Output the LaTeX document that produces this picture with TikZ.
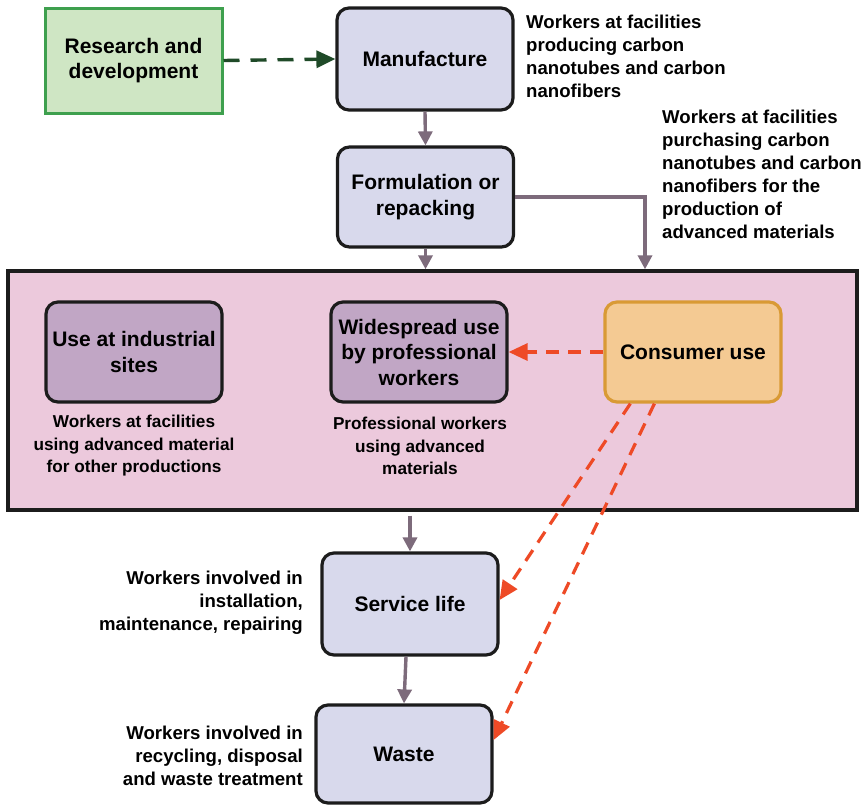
\documentclass[tikz,border=0pt]{standalone}
\usepackage{fontspec}
\setmainfont{Liberation Sans}
\usetikzlibrary{arrows.meta,calc}
\definecolor{rdfill}{HTML}{CFE6C4}
\definecolor{rdline}{HTML}{3EA04E}
\definecolor{gdark}{HTML}{1F4A28}
\definecolor{bluefill}{HTML}{D8D9EC}
\definecolor{boxline}{HTML}{1C1C1C}
\definecolor{pinkfill}{HTML}{ECC9DC}
\definecolor{purpfill}{HTML}{C1A6C5}
\definecolor{consfill}{HTML}{F4CA93}
\definecolor{consline}{HTML}{D99A35}
\definecolor{flowc}{HTML}{7D6B7B}
\definecolor{orng}{HTML}{EE4A26}
\begin{document}
\begin{tikzpicture}[x=1pt,y=-1pt,
  box/.style={draw=boxline,line width=3.2pt,rounded corners=12pt,inner sep=0pt,align=center,
    minimum width=176pt,minimum height=100pt,font=\bfseries\fontsize{21}{25.5}\selectfont},
  bluebox/.style={box,fill=bluefill},
  purpbox/.style={box,fill=purpfill},
  note/.style={inner sep=0pt,font=\bfseries\fontsize{18.6}{23}\selectfont},
  flow/.style={draw=flowc,line width=3.4pt,-{Triangle[length=14pt,width=14pt]}},
  odash/.style={draw=orng,line width=3.2pt,dash pattern=on 13pt off 9pt,-{Triangle[length=19pt,width=17pt]}},
  gdash/.style={draw=gdark,line width=3.4pt,dash pattern=on 16pt off 11pt,-{Triangle[length=19pt,width=17pt]}}
]
\useasboundingbox (0,0) rectangle (866,806);
\fill[white] (0,0) rectangle (866,806);

% big container
\node[draw=boxline,line width=3.4pt,fill=pinkfill,minimum width=849pt,minimum height=239pt,inner sep=0pt] (big) at (432.5,390.5) {};

% top boxes
\node[draw=rdline,line width=3pt,fill=rdfill,minimum width=177pt,minimum height=105pt,inner sep=0pt,align=center,
  font=\bfseries\fontsize{21}{25.5}\selectfont] (rd) at (133.5,60.5) {Research and\\development};
\node[bluebox,minimum height=102pt] (manu) at (425,59) {Manufacture};
\node[bluebox] (form) at (425.5,197) {Formulation or\\repacking};

% inner boxes
\node[purpbox] (ind) at (134,352) {Use at industrial\\sites};
\node[purpbox] (wide) at (419,352) {Widespread use\\by professional\\workers};
\node[box,draw=consline,fill=consfill] (cons) at (693,352) {Consumer use};

% bottom boxes
\node[bluebox,minimum height=102pt] (serv) at (410,604) {Service life};
\node[bluebox,minimum height=98pt] (waste) at (404,754) {Waste};

% notes
\node[note,anchor=west,align=left] (n1) at (526,56) {Workers at facilities\\producing carbon\\nanotubes and carbon\\nanofibers};
\node[note,anchor=west,align=left] (n2) at (662,174.5) {Workers at facilities\\purchasing carbon\\nanotubes and carbon\\nanofibers for the\\production of\\advanced materials};
\node[note,align=center,font=\bfseries\fontsize{17.2}{22.5}\selectfont] (n3) at (134,446) {Workers at facilities\\using advanced material\\for other productions};
\node[note,align=center,font=\bfseries\fontsize{17.2}{22.5}\selectfont] (n4) at (420,446) {Professional workers\\using advanced\\materials};
\node[note,anchor=east,align=right] (n5) at (303,603) {Workers involved in\\installation,\\maintenance, repairing};
\node[note,anchor=east,align=right] (n6) at (303,756) {Workers involved in\\recycling, disposal\\and waste treatment};

% connectors
\draw[gdash] (rd.east) -- (manu.west);
\draw[flow] (manu.south) -- (form.north);
\draw[flow] (form.south) -- (form.south |- big.north);
\coordinate (cornerR) at (645,0);
\draw[flow] (form.east) -- (form.east -| cornerR) -- (cornerR |- big.north);
\draw[odash] (cons.west) -- (wide.east);
\coordinate (bigout) at (410,0);
\draw[flow] ($(bigout |- big.south)+(0,4)$) -- (serv.north);
\draw[flow] ($(serv.south)+(-4,0)$) -- (waste.north);
\draw[odash] ($(cons.south west)+(27,0)$) -- ($(serv.east)+(0,-4)$);
\draw[odash] ($(cons.south west)+(51,0)$) -- ($(waste.east)+(0,-14)$);
\end{tikzpicture}
\end{document}
